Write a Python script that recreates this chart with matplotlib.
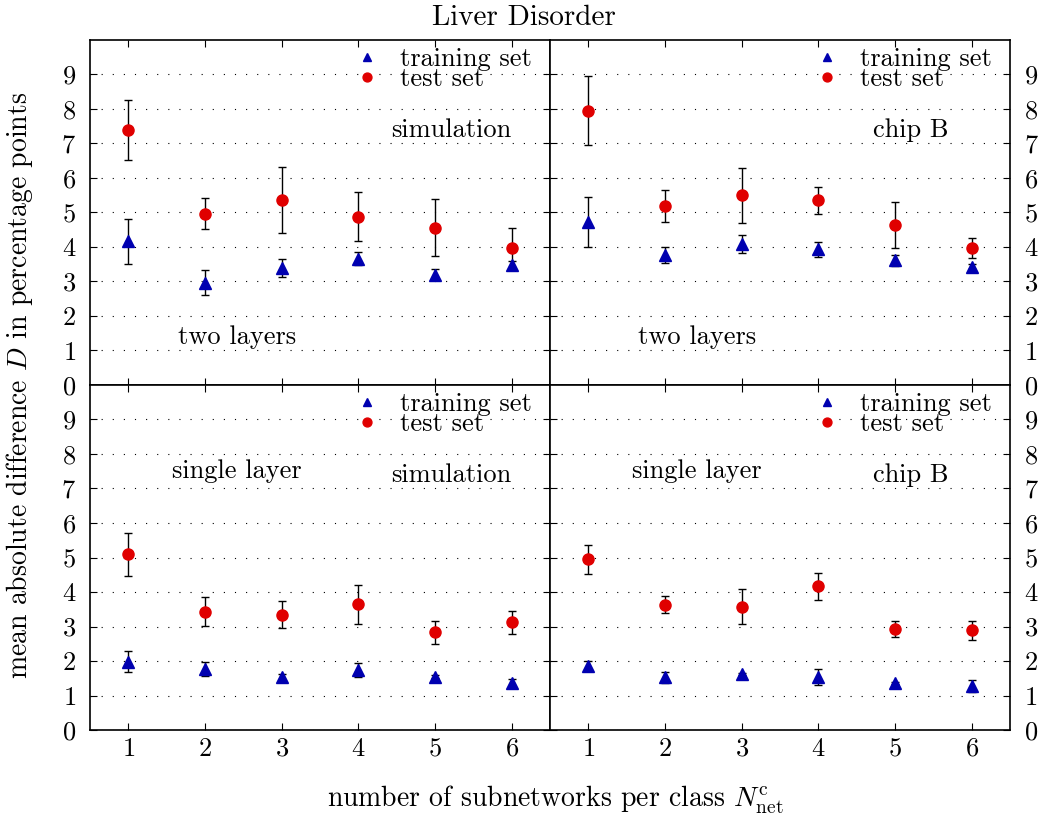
import numpy as np
import matplotlib.pyplot as plt

plt.rcParams['font.family'] = 'serif'
plt.rcParams['font.serif'] = ['cmr10', 'DejaVu Serif']
plt.rcParams['mathtext.fontset'] = 'cm'
plt.rcParams['axes.formatter.use_mathtext'] = True

n_sub = [1, 2, 3, 4, 5, 6]

# two layers, simulation
tl_sim_train = [4.17, 2.96, 3.39, 3.66, 3.19, 3.47]
tl_sim_train_err = [0.65, 0.36, 0.27, 0.19, 0.16, 0.12]
tl_sim_test = [7.38, 4.96, 5.36, 4.88, 4.56, 3.98]
tl_sim_test_err = [0.87, 0.45, 0.96, 0.70, 0.83, 0.58]

# two layers, chip B
tl_chip_train = [4.72, 3.77, 4.09, 3.93, 3.61, 3.43]
tl_chip_train_err = [0.73, 0.22, 0.25, 0.22, 0.16, 0.07]
tl_chip_test = [7.95, 5.19, 5.50, 5.35, 4.64, 3.97]
tl_chip_test_err = [1.00, 0.47, 0.80, 0.40, 0.67, 0.28]

# single layer, simulation
sl_sim_train = [1.98, 1.77, 1.53, 1.74, 1.55, 1.35]
sl_sim_train_err = [0.30, 0.20, 0.08, 0.20, 0.05, 0.12]
sl_sim_test = [5.09, 3.43, 3.34, 3.64, 2.83, 3.12]
sl_sim_test_err = [0.63, 0.42, 0.39, 0.57, 0.33, 0.33]

# single layer, chip B
sl_chip_train = [1.85, 1.53, 1.62, 1.54, 1.36, 1.27]
sl_chip_train_err = [0.15, 0.16, 0.03, 0.23, 0.03, 0.17]
sl_chip_test = [4.95, 3.63, 3.57, 4.16, 2.94, 2.89]
sl_chip_test_err = [0.42, 0.25, 0.51, 0.39, 0.23, 0.27]

panels = [
    (tl_sim_train, tl_sim_train_err, tl_sim_test, tl_sim_test_err, "two layers", "simulation"),
    (tl_chip_train, tl_chip_train_err, tl_chip_test, tl_chip_test_err, "two layers", "chip B"),
    (sl_sim_train, sl_sim_train_err, sl_sim_test, sl_sim_test_err, "single layer", "simulation"),
    (sl_chip_train, sl_chip_train_err, sl_chip_test, sl_chip_test_err, "single layer", "chip B"),
]

blue = '#0000b0'
red = '#e00000'
fs = 19

fig, axes = plt.subplots(2, 2, figsize=(10.47, 8.21), dpi=100)
fig.subplots_adjust(left=90/1047, right=1010/1047, top=1-40/821, bottom=1-730/821,
                    wspace=0, hspace=0)

for k, ax in enumerate(axes.flat):
    tr, tre, te, tee, layer, kind = panels[k]
    ax.errorbar(n_sub, tr, yerr=tre, fmt='none', ecolor='black', elinewidth=1,
                capsize=3, capthick=1, zorder=2)
    ax.errorbar(n_sub, te, yerr=tee, fmt='none', ecolor='black', elinewidth=1,
                capsize=3, capthick=1, zorder=2)
    ax.plot(n_sub, tr, '^', color=blue, markersize=8, label='training set', zorder=3)
    ax.plot(n_sub, te, 'o', color=red, markersize=8, label='test set', zorder=3)

    ax.set_xlim(0.5, 6.5)
    ax.set_ylim(0, 10)
    ax.set_xticks(n_sub)
    ax.set_yticks(range(0, 10))
    ax.grid(axis='y', linestyle=(0, (1, 9)), color='black', linewidth=0.8)
    ax.tick_params(direction='in', top=True, right=True, left=True, bottom=True,
                   labelsize=fs, length=5)
    ax.tick_params(axis='y', pad=10)
    ax.tick_params(axis='x', pad=5)
    for s in ax.spines.values():
        s.set_linewidth(1.2)

    row, col = divmod(k, 2)
    if row == 0:
        ax.tick_params(labelbottom=False)
    if col == 1:
        ax.tick_params(labelleft=False, labelright=True)

    if layer == "two layers":
        ax.text(2.42, 1.4, layer, fontsize=fs, ha='center', va='center')
        ax.text(5.21, 7.38, kind, fontsize=fs, ha='center', va='center')
    else:
        ax.text(2.41, 7.5, layer, fontsize=fs, ha='center', va='center')
        ax.text(5.21, 7.39, kind, fontsize=fs, ha='center', va='center')

    ax.legend(loc='upper right', bbox_to_anchor=(0.96, 0.978), frameon=False,
              fontsize=fs, handlelength=0.8, handletextpad=0.85, markerscale=0.8,
              labelspacing=-0.16, borderpad=0, borderaxespad=0)

fig.suptitle("Liver Disorder", fontsize=21, y=1-5/821, va='top')
fig.text(20/1047, 1-385/821, r"mean absolute difference $D$ in percentage points",
         rotation=90, ha='center', va='center', fontsize=20)
fig.text(555/1047, 1-800/821, r"number of subnetworks per class $N_\mathrm{net}^\mathrm{c}$",
         ha='center', va='center', fontsize=20)

plt.savefig('out.png', dpi=100)
